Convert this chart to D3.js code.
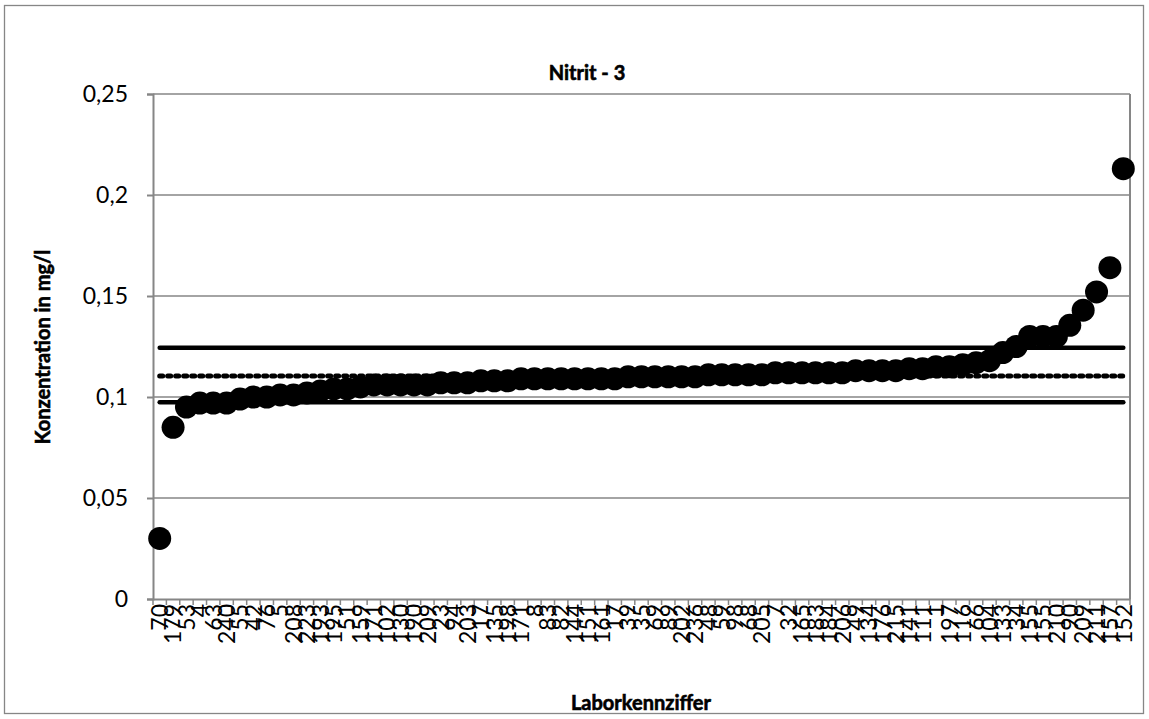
<!DOCTYPE html>
<html>
<head>
<meta charset="utf-8">
<script src="https://cdn.jsdelivr.net/npm/d3@7"></script>
<style>
  html, body { margin: 0; padding: 0; background: #fff; }
  svg { display: block; }
  text { font-family: Lato, "Open Sans", "Liberation Sans", sans-serif; fill: #000; }
</style>
</head>
<body>
<svg id="chart" width="1149" height="719"></svg>
<script>
// ---- Data ----
const title = "Nitrit - 3";
const xTitle = "Laborkennziffer";
const yTitle = "Konzentration in mg/l";

const labs = ["70","179","53","4","63","240","55","42","76","5",
  "208","223","193","195","51","159","171","102","130","190",
  "209","23","94","203","17","135","198","171","8","83",
  "82","144","151","161","17","39","35","69","89","202",
  "236","48","59","98","68","205","7","32","165","183",
  "184","206","49","134","176","215","141","111","1","197",
  "116","66","104","133","34","155","155","210","90","209",
  "211","157","152"];

const values = [0.030,0.085,0.095,0.097,0.097,0.097,0.099,0.100,0.100,0.101,
  0.101,0.102,0.103,0.104,0.104,0.105,0.106,0.106,0.106,0.106,
  0.106,0.107,0.107,0.107,0.108,0.108,0.108,0.109,0.109,0.109,
  0.109,0.109,0.109,0.109,0.109,0.110,0.110,0.110,0.110,0.110,
  0.110,0.111,0.111,0.111,0.111,0.111,0.112,0.112,0.112,0.112,
  0.112,0.112,0.113,0.113,0.113,0.113,0.114,0.114,0.115,0.115,
  0.116,0.117,0.118,0.122,0.125,0.130,0.130,0.130,0.1355,0.143,
  0.152,0.164,0.213];

const upperLimit = 0.1244;
const assignedValue = 0.1104;
const lowerLimit = 0.0974;

const yTicks = [0, 0.05, 0.1, 0.15, 0.2, 0.25];

// ---- Layout ----
const W = 1149, H = 719;
const plot = { left: 153, right: 1130, top: 94, bottom: 599 };
const gray = "#868686";
const tickFont = 23;

const svg = d3.select("#chart");
svg.append("rect").attr("x", 0).attr("y", 0).attr("width", W).attr("height", H).attr("fill", "#fff");
svg.append("rect").attr("x", 4.5).attr("y", 5.5).attr("width", 1139).attr("height", 708)
  .attr("fill", "#fff").attr("stroke", gray).attr("stroke-width", 1.3);

const idx = d3.range(labs.length);
const x = d3.scaleBand().domain(idx).range([plot.left, plot.right]).padding(0);
const y = d3.scaleLinear().domain([0, 0.25]).range([plot.bottom, plot.top]);
const cx = i => x(i) + x.bandwidth() / 2;

// gridlines
svg.append("g").selectAll("line").data(yTicks.filter(d => d > 0)).join("line")
  .attr("x1", plot.left).attr("x2", plot.right)
  .attr("y1", d => y(d)).attr("y2", d => y(d))
  .attr("stroke", gray).attr("stroke-width", 1.5);

// right border of plot area
svg.append("line").attr("x1", plot.right).attr("x2", plot.right)
  .attr("y1", plot.top).attr("y2", plot.bottom)
  .attr("stroke", gray).attr("stroke-width", 2);

// y axis
const yAxis = d3.axisLeft(y).tickValues(yTicks).tickSize(6).tickPadding(19)
  .tickFormat(d => d === 0 ? "0" : String(d).replace(".", ","));
const gy = svg.append("g").attr("transform", `translate(${plot.left},0)`).call(yAxis);
gy.select(".domain").attr("stroke", gray).attr("stroke-width", 2);
gy.selectAll(".tick line").attr("stroke", gray).attr("stroke-width", 2);
gy.selectAll(".tick text").attr("font-size", tickFont).attr("font-family", "Lato, sans-serif").attr("fill", "#000");

// x axis (labels)
const xAxis = d3.axisBottom(x).tickSize(0).tickPadding(0).tickFormat(i => labs[i]);
const gx = svg.append("g").attr("transform", `translate(0,${plot.bottom})`).call(xAxis);
gx.select(".domain").attr("stroke", gray).attr("stroke-width", 2);
gx.selectAll(".tick text")
  .attr("font-size", tickFont).attr("font-family", "Lato, sans-serif").attr("fill", "#000")
  .attr("text-anchor", "end")
  .attr("transform", "rotate(-90)")
  .attr("x", -5).attr("y", 0).attr("dy", "0.36em");

// x tick marks at category boundaries
const bounds = d3.range(labs.length + 1);
svg.append("g").selectAll("line").data(bounds).join("line")
  .attr("x1", i => plot.left + i * x.bandwidth()).attr("x2", i => plot.left + i * x.bandwidth())
  .attr("y1", plot.bottom).attr("y2", plot.bottom + 6)
  .attr("stroke", gray).attr("stroke-width", 1.5);

// reference lines
const x0 = cx(0), x1 = cx(labs.length - 1);
const refs = [
  { v: upperLimit, dash: null, w: 4.5 },
  { v: assignedValue, dash: "3,5", w: 5 },
  { v: lowerLimit, dash: null, w: 4.5 }
];
svg.append("g").selectAll("line").data(refs).join("line")
  .attr("x1", x0).attr("x2", x1)
  .attr("y1", d => y(d.v)).attr("y2", d => y(d.v))
  .attr("stroke", "#000").attr("stroke-width", d => d.w)
  .attr("stroke-linecap", "round")
  .attr("stroke-dasharray", d => d.dash);

// points
svg.append("g").selectAll("circle").data(values).join("circle")
  .attr("cx", (d, i) => cx(i)).attr("cy", d => y(d))
  .attr("r", 11.5).attr("fill", "#000");

// titles
const bold = sel => sel.attr("font-weight", "bold").attr("stroke", "#000").attr("stroke-width", 0.6);
svg.append("text").attr("x", 587).attr("y", 80).attr("text-anchor", "middle")
  .attr("font-size", 20).call(bold).text(title);
svg.append("text").attr("x", 641).attr("y", 710).attr("text-anchor", "middle")
  .attr("font-size", 20).call(bold).text(xTitle);
svg.append("text").attr("transform", "translate(50,347) rotate(-90)").attr("text-anchor", "middle")
  .attr("font-size", 20).call(bold).text(yTitle);
</script>
</body>
</html>
